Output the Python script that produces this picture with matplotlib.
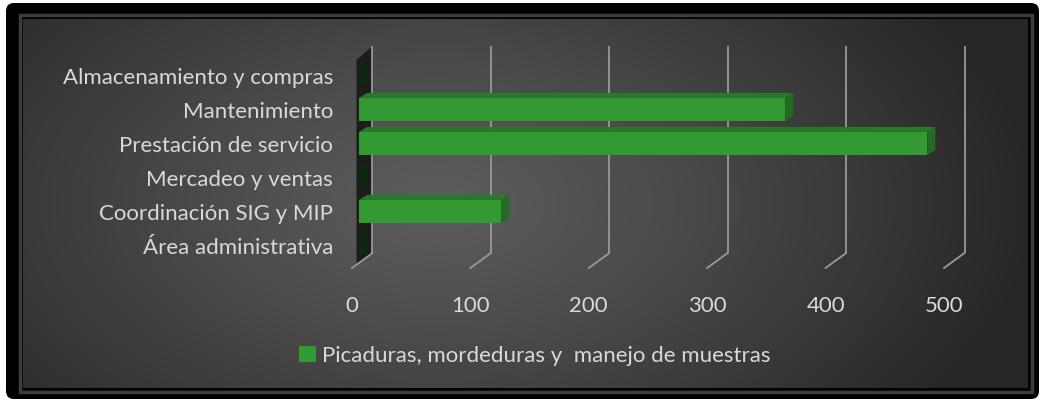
import numpy as np
import matplotlib.pyplot as plt
from matplotlib.patches import Polygon, FancyBboxPatch, Rectangle
from matplotlib.transforms import ScaledTranslation

# -------------------- data --------------------
categories = ['Área administrativa', 'Coordinación SIG y MIP', 'Mercadeo y ventas',
              'Prestación de servicio', 'Mantenimiento', 'Almacenamiento y compras']
values = [0, 120, 0, 480, 360, 0]
x_ticks = [0, 100, 200, 300, 400, 500]
series_name = 'Picaduras, mordeduras y  manejo de muestras'

# -------------------- style --------------------
W, H = 1044, 400
FONT = 'Lato'
FS = 16
TXT = '#d9d9d9'
GREEN = '#339933'
GREEN_TOP = '#287a28'
GREEN_SIDE = '#236b23'
GREEN_DARK = '#0c2810'
GRID = '#999999'

# pixel geometry of the 3d box
X0_PX, PPU = 359, 1.184        # front of bars: value 0 and px per unit
Y0_PX, PPC = 245.5, 34.0       # centre of first category, px per category
AX_L, AX_R, AX_T, AX_B = 340, 1000, 38, 272
BAR_H = 0.68
DX, DY = 8 / PPU, 5 / PPC      # bar depth
BACK_DX = 13.5 / PPU           # back wall offset
FRONT_DX = -7 / PPU            # floor front offset
Y_BACK = (Y0_PX - 253) / PPC
Y_FRONT = (Y0_PX - 268) / PPC
Y_TOP = (Y0_PX - 46) / PPC

fig = plt.figure(figsize=(W / 100, H / 100), dpi=100)
fig.patch.set_facecolor('white')

# -------------------- frame + background --------------------
bg = fig.add_axes([0, 0, 1, 1])
bg.axis('off')
bg.add_patch(FancyBboxPatch((6, 3), 1033, 396, boxstyle='round,pad=0,rounding_size=8',
                            fc='black', ec='none', zorder=0))
bg.add_patch(Rectangle((19.5, 14.5), 1012, 377, fc='none', ec='#3c3c3c', lw=2.5, zorder=1))
yy, xx = np.mgrid[0:H, 0:W]
r = np.sqrt(((xx - 430) / 620.0) ** 2 + ((yy - 200) / 380.0) ** 2)
shade = 0.36 - 0.21 * np.clip(r, 0, 1) ** 1.2
img = np.dstack([shade] * 3)
bg.imshow(img, extent=(23, 1028, 388, 19), aspect='auto', interpolation='bilinear', zorder=2)
bg.set_xlim(0, W); bg.set_ylim(H, 0)

# -------------------- main axes --------------------
ax = fig.add_axes([AX_L / W, 1 - AX_B / H, (AX_R - AX_L) / W, (AX_B - AX_T) / H])
ax.set_facecolor('none')
ax.set_xlim((AX_L - X0_PX) / PPU, (AX_R - X0_PX) / PPU)
ax.set_ylim((Y0_PX - AX_B) / PPC, (Y0_PX - AX_T) / PPC)
for s in ax.spines.values():
    s.set_visible(False)
ax.tick_params(length=0)

# dark side wall at value 0
wall = [(-2.5 / PPU, (Y0_PX - 265) / PPC), (-2.5 / PPU, (Y0_PX - 60) / PPC),
        (BACK_DX, Y_TOP), (BACK_DX, Y_BACK)]
ax.add_patch(Polygon(wall, closed=True, fc='#1c1c1c', ec='none', zorder=1))

# grid lines: back verticals + floor diagonals
for v in x_ticks:
    ax.plot([v + BACK_DX, v + BACK_DX], [Y_BACK, Y_TOP], color=GRID, lw=1.3, zorder=2,
            solid_capstyle='butt')
    ax.plot([v + FRONT_DX, v + BACK_DX], [Y_FRONT, Y_BACK], color=GRID, lw=1.3, zorder=2)

# bars with fake 3d faces
ypos = np.arange(len(categories))
bars = ax.barh(ypos, values, height=BAR_H, color=GREEN, zorder=5, label=series_name)
for y, v in zip(ypos, values):
    top = y + BAR_H / 2
    bot = y - BAR_H / 2
    side_col = GREEN_SIDE if v > 0 else GREEN_DARK
    ax.add_patch(Polygon([(v, bot), (v, top), (v + DX, top + DY), (v + DX, bot + DY)],
                         closed=True, fc=side_col, ec='none', zorder=4))
    if v > 0:
        ax.add_patch(Polygon([(0, top), (v, top), (v + DX, top + DY), (DX, top + DY)],
                             closed=True, fc=GREEN_TOP, ec='none', zorder=4))

# tick labels
ax.set_yticks(ypos)
ax.set_yticklabels(categories, fontsize=FS, color=TXT, family=FONT)
off = ScaledTranslation(0, -6.5 / 100, fig.dpi_scale_trans)
for lbl in ax.get_yticklabels():
    lbl.set_transform(lbl.get_transform() + off)
ax.tick_params(axis='y', pad=5)

ax.set_xticks([v + FRONT_DX for v in x_ticks])
ax.set_xticklabels([str(v) for v in x_ticks], fontsize=FS, color=TXT, family=FONT)
ax.tick_params(axis='x', pad=17)

# legend
leg = fig.legend(handles=[bars], labels=[series_name], loc='center left',
                 bbox_to_anchor=(279 / W, 1 - 356 / H), frameon=False,
                 handlelength=0.75, handleheight=0.75, handletextpad=0.3,
                 prop={'family': FONT, 'size': FS})
for t in leg.get_texts():
    t.set_color(TXT)

fig.savefig('out.png', dpi=100, facecolor=fig.get_facecolor())
